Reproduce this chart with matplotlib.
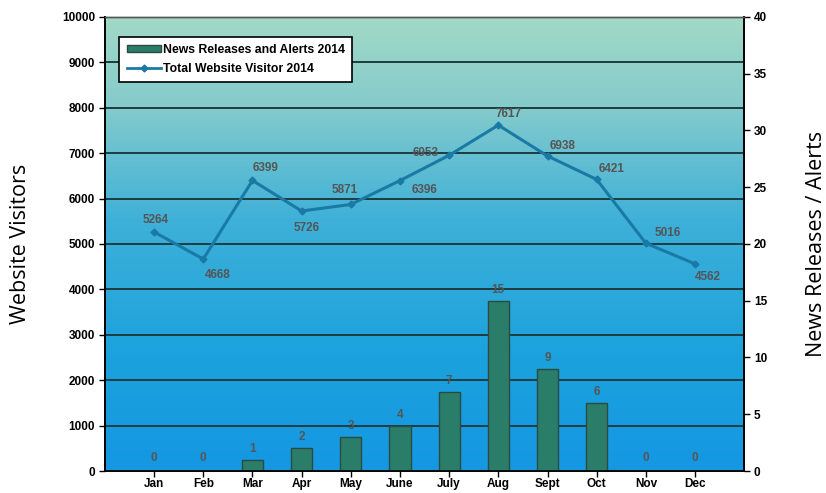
import numpy as np
import matplotlib.pyplot as plt
from matplotlib.colors import LinearSegmentedColormap
from matplotlib.lines import Line2D
from matplotlib.patches import Patch

months = ["Jan", "Feb", "Mar", "Apr", "May", "June", "July", "Aug", "Sept", "Oct", "Nov", "Dec"]
visitors = [5264, 4668, 6399, 5726, 5871, 6396, 6953, 7617, 6938, 6421, 5016, 4562]
releases = [0, 0, 1, 2, 3, 4, 7, 15, 9, 6, 0, 0]

# where each visitor label sits relative to its point (pixels)
label_offsets = [(2, 12), (14, -16), (13, 12), (5, -17), (-6, 14), (25, -9),
                 (-24, 2), (10, 11), (15, 10), (15, 10), (22, 10), (13, -13)]

line_color = "#1a7aa6"
bar_color = "#2a7d68"
label_gray = "#555555"
tick_font = dict(family="Liberation Sans", weight="bold", size=8.5)

fig = plt.figure(figsize=(8.26, 4.93), dpi=100)
ax = fig.add_axes([0.127, 0.0446, 0.774, 0.921])
ax2 = ax.twinx()

# background gradient, mint at the top to blue at the bottom
cmap = LinearSegmentedColormap.from_list(
    "bg", [(0.0, "#a2d9c6"), (0.2, "#84cbcc"), (0.45, "#3eb0d8"),
           (0.75, "#1ba2dd"), (1.0, "#1597e3")])
grad = np.linspace(0, 1, 256).reshape(-1, 1)
ax.imshow(grad, cmap=cmap, aspect="auto", extent=[0, 1, 0, 1],
          transform=ax.transAxes, zorder=0)

x = np.arange(len(months))

ax.set_xlim(-1, 12)
ax.set_ylim(0, 10000)
ax.set_yticks(range(0, 10001, 1000))
ax.grid(axis="y", color="#1e3c40", linewidth=1.4, zorder=1)
ax.set_axisbelow(False)

ax.plot(x, visitors, color=line_color, linewidth=2.2, marker="D",
        markersize=3.5, zorder=3)
for xi, v, off in zip(x, visitors, label_offsets):
    ax.annotate(str(v), (xi, v), xytext=off, textcoords="offset pixels",
                ha="center", va="center", color=label_gray, zorder=4, **tick_font)

ax2.set_ylim(0, 40)
ax2.set_yticks(range(0, 41, 5))
ax2.bar(x, releases, width=0.43, color=bar_color, edgecolor="#2b4a44",
        linewidth=1.0, zorder=2)
for xi, r in zip(x, releases):
    ax2.annotate(str(r), (xi, r), xytext=(0, 5 if r else 7), textcoords="offset pixels",
                 ha="center", va="bottom", color=label_gray, **tick_font)

ax.set_xticks(x)
ax.set_xticklabels(months)
for a in (ax, ax2):
    a.tick_params(length=4, width=1, color="black", pad=3)
    for t in a.get_xticklabels() + a.get_yticklabels():
        t.set_fontfamily("Liberation Sans")
        t.set_fontweight("bold")
        t.set_fontsize(8.5)
    for s in ("left", "right", "bottom"):
        a.spines[s].set_color("black")
        a.spines[s].set_linewidth(1.2)
    a.spines["top"].set_color("#555555")
    a.spines["top"].set_linestyle((0, (4, 1)))
    a.spines["top"].set_linewidth(1.0)
ax.tick_params(axis="x", pad=1)

ax.set_ylabel("Website Visitors", family="Open Sans", fontsize=15.5, labelpad=22)
ax2.set_ylabel("News Releases / Alerts", family="Open Sans", fontsize=15.5,
               labelpad=28)

handles = [Patch(facecolor=bar_color, edgecolor="#2b4a44"),
           Line2D([], [], color=line_color, linewidth=2, marker="D", markersize=3.5)]
leg = ax2.legend(handles, ["News Releases and Alerts 2014", "Total Website Visitor 2014"],
                 loc="upper left", bbox_to_anchor=(0.013, 0.97), fancybox=False,
                 framealpha=1, edgecolor="black", handlelength=2.8, handleheight=0.5,
                 handletextpad=0.15, borderpad=0.6, labelspacing=0.55,
                 prop=dict(family="Liberation Sans", weight="bold", size=8.8))
leg.get_frame().set_linewidth(1.2)

fig.savefig("out.png", dpi=100)
